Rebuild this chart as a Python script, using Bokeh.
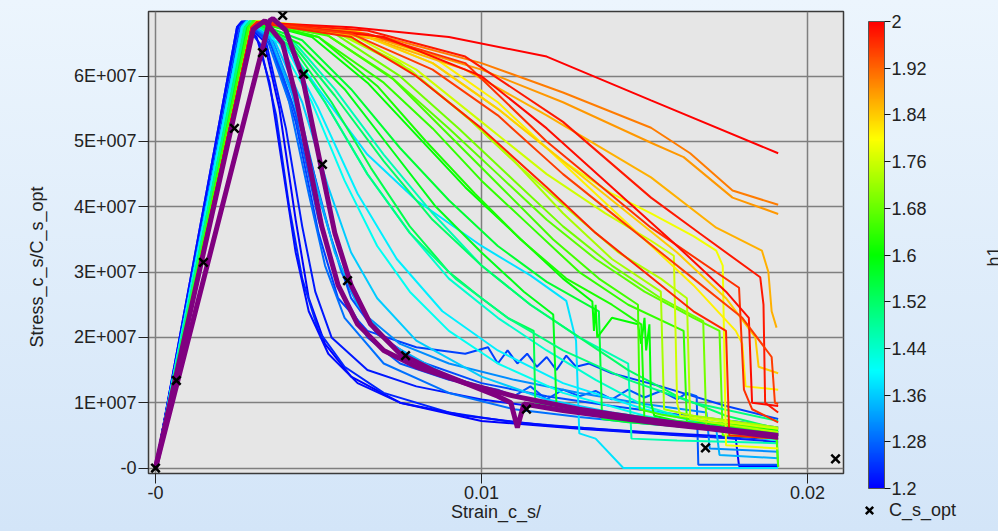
import colorsys
from math import pi
from bokeh.plotting import figure
from bokeh.models import (ColumnDataSource, LinearColorMapper, ColorBar, FixedTicker,
                          Label, Legend, LegendItem, Range1d, Title)
from bokeh.transform import transform
from bokeh.embed import file_html
from bokeh.resources import INLINE

# ---------------- data (strain in 1e-3, stress in 1e7) ----------------
H1 = [1.20, 1.22, 1.25, 1.27, 1.29, 1.23, 1.31, 1.21, 1.26,
      1.38, 1.36, 1.41, 1.44, 1.34, 1.46, 1.39,
      1.52, 1.56, 1.60, 1.64, 1.67, 1.58, 1.54, 1.62, 1.69, 1.50, 1.65,
      1.73, 1.79, 1.76, 1.81, 1.74,
      1.90, 1.88, 1.86, 1.84,
      2.00, 1.98, 1.96, 1.99, 1.95, 1.97]

STRAIN_MILLI = [
    [0, 2.55, 2.7, 3.3, 3.8, 4.3, 4.7, 5.2, 6.0, 7.5, 10, 13, 16, 17.8, 17.9, 19.1],
    [0, 2.55, 2.7, 3.4, 4.0, 4.5, 4.9, 5.4, 6.5, 8, 10, 12, 14, 16, 19.1],
    [0, 2.6, 2.72, 3.5, 4.3, 5, 5.6, 6.5, 8, 9.5, 10.2, 10.5, 10.8, 11.1, 11.4, 11.7, 12.0, 12.3, 12.6, 12.9, 13.3, 14, 15.5, 17.5, 19.1],
    [0, 2.6, 2.75, 3.5, 4.3, 5, 5.7, 6.5, 7.5, 9, 10.5, 11, 11.5, 12, 12.5, 13, 13.5, 14, 14.5, 15, 15.5, 16, 16.3, 16.6, 16.65, 19.1],
    [0, 2.6, 2.75, 3.4, 4.1, 4.7, 5.2, 5.8, 7, 9, 11, 13, 15, 17, 19.1],
    [0, 2.5, 2.65, 3.2, 3.7, 4.1, 4.5, 5.0, 5.8, 7, 9, 11, 14, 17, 19.1],
    [0, 2.6, 2.8, 3.6, 4.4, 5.1, 5.7, 6.3, 7.5, 9, 11, 13, 15, 16.9, 17.0, 19.1],
    [0, 2.5, 2.65, 3.1, 3.5, 3.9, 4.3, 4.7, 5.3, 6.2, 7.5, 9.5, 12, 15, 19.1],
    [0, 2.6, 2.75, 3.6, 4.6, 5.4, 6.0, 6.8, 8, 10, 12, 14, 16, 18, 19.1],
    [0, 2.65, 2.8, 4, 5, 6.5, 8, 10, 11.5, 12.6, 12.9, 13.0, 13.5, 14.35, 19.1],
    [0, 2.65, 2.8, 3.6, 4.5, 5.3, 6, 6.8, 8, 10, 12, 14, 16, 19.1],
    [0, 2.7, 2.85, 3.8, 4.8, 5.8, 6.8, 7.8, 9, 10.5, 12.5, 15, 17.5, 19.1],
    [0, 2.7, 2.85, 4, 5.2, 6.5, 7.8, 9, 10.5, 12, 13.5, 15, 17, 19.1],
    [0, 2.65, 2.8, 3.5, 4.2, 4.9, 5.5, 6.2, 7.2, 9, 11, 13, 15, 17.2, 17.3, 19.1],
    [0, 2.7, 2.9, 4.2, 5.5, 7, 8.5, 10, 11.5, 13, 14.5, 14.6, 16, 19.1],
    [0, 2.65, 2.8, 3.9, 5.0, 6.2, 7.4, 8.8, 10.5, 12.5, 15, 17.5, 19.1],
    [0, 2.75, 2.9, 4.2, 5.5, 7, 8.5, 10, 11.5, 13, 14.5, 16, 17.5, 19.1],
    [0, 2.8, 2.95, 4.5, 6, 7.5, 9, 10.5, 12, 13.6, 13.7, 14.5, 16.5, 19.05, 19.1],
    [0, 2.85, 3.0, 4.8, 6.5, 8, 9.5, 11, 12.5, 13.4, 13.45, 13.5, 13.55, 14, 14.8, 14.9, 15.0, 15.05, 15.15, 15.2, 15.3, 16, 17.5, 19.1],
    [0, 2.85, 3.0, 5, 7, 8.5, 10, 11.5, 13, 14.5, 16.2, 16.3, 17, 19.1],
    [0, 2.9, 3.05, 5.2, 7.2, 9, 10.5, 12, 13.5, 15, 16.5, 17.3, 17.4, 19.05, 19.1],
    [0, 2.8, 2.95, 4.4, 5.8, 7.2, 8.6, 10, 11.3, 12.2, 12.3, 13, 15, 17, 19.1],
    [0, 2.75, 2.9, 4.2, 5.4, 6.6, 7.8, 9, 10, 10.8, 11.6, 11.65, 12.5, 15, 17.5, 19.1],
    [0, 2.85, 3.0, 5, 6.8, 8.3, 9.8, 11.2, 12.6, 14, 14.9, 15.0, 16, 19.1],
    [0, 2.9, 3.05, 5.5, 7.5, 9.3, 11, 12.5, 14, 15.5, 16.8, 16.9, 18, 19.1],
    [0, 2.75, 2.9, 4.0, 5.2, 6.5, 7.8, 9.2, 10.8, 12.5, 14.5, 16.5, 19.1],
    [0, 2.85, 3.0, 5.3, 7.3, 9, 10.6, 12.2, 13.6, 14.8, 14.85, 15.5, 17, 19.1],
    [0, 2.95, 3.1, 5.5, 7.5, 9.5, 11, 12.5, 14, 15.5, 15.6, 16.5, 19.1],
    [0, 3.0, 3.15, 6, 8.5, 10.5, 12.5, 14, 15.2, 16.5, 17.2, 17.4, 17.5, 19.1],
    [0, 2.95, 3.1, 5.8, 8, 10, 12, 13.8, 15.2, 15.9, 16.0, 16.1, 19.1],
    [0, 3.0, 3.2, 6, 8.5, 10.5, 12, 13.5, 15, 16.5, 17.8, 18.0, 18.1, 19.1],
    [0, 2.95, 3.1, 5.5, 7.8, 9.6, 11.2, 12.8, 14.2, 15.5, 16.3, 16.4, 17, 19.1],
    [0, 3.0, 3.2, 7, 10, 12.5, 15.2, 16.4, 17.7, 19.1],
    [0, 3.0, 3.2, 7, 10, 12.5, 15.2, 16.2, 17.7, 19.1],
    [0, 3.0, 3.2, 6.5, 9.5, 12, 15.2, 17.2, 18.6, 18.8, 18.9, 19.05],
    [0, 3.0, 3.2, 6, 8.5, 10.5, 12.5, 14.5, 16, 17.5, 18.4, 18.5, 19.1],
    [0, 2.95, 3.1, 6, 9, 12, 15.2, 19.1],
    [0, 2.95, 3.1, 6.5, 9.5, 12.5, 15.2, 16.7, 18.55, 18.65, 18.7, 19.1],
    [0, 2.95, 3.1, 6.5, 9.5, 12, 15.2, 17.9, 18.05, 18.3, 19.1],
    [0, 2.95, 3.1, 7, 10, 12, 14, 16, 17.5, 18.2, 18.3, 19.1],
    [0, 2.95, 3.1, 6, 8.5, 10.5, 12.5, 14.5, 16.5, 18, 18.9, 19.0, 19.1],
    [0, 2.95, 3.1, 6, 8, 10, 12, 13.5, 15, 16.5, 17.5, 17.6, 19.1],
]

STRESS_E7 = [
    [0, 6.75, 6.84, 6.6, 5.5, 3.8, 2.6, 1.9, 1.4, 1.0, 0.72, 0.6, 0.5, 0.45, 0.03, 0.03],
    [0, 6.75, 6.84, 6.5, 5.2, 3.7, 2.7, 2.0, 1.5, 1.25, 1.05, 0.92, 0.8, 0.7, 0.55],
    [0, 6.75, 6.84, 6.55, 5.3, 3.6, 2.6, 2.1, 1.85, 1.75, 1.85, 1.6, 1.8, 1.6, 1.75, 1.55, 1.7, 1.5, 1.72, 1.55, 1.6, 1.45, 1.25, 0.95, 0.75],
    [0, 6.75, 6.84, 6.6, 5.4, 3.8, 2.7, 2.0, 1.6, 1.35, 1.2, 1.1, 1.25, 1.05, 1.2, 1.1, 1.18, 1.05, 1.2, 1.08, 1.18, 1.05, 1.15, 1.1, 0.05, 0.05],
    [0, 6.75, 6.84, 6.6, 5.6, 4.2, 3.1, 2.3, 1.6, 1.15, 0.9, 0.78, 0.68, 0.6, 0.52],
    [0, 6.75, 6.84, 6.5, 5.4, 4.0, 2.9, 2.1, 1.55, 1.15, 0.85, 0.7, 0.58, 0.48, 0.4],
    [0, 6.75, 6.84, 6.55, 5.5, 4.0, 3.0, 2.4, 1.9, 1.6, 1.35, 1.15, 0.98, 0.85, 0.3, 0.25],
    [0, 6.75, 6.84, 6.6, 5.9, 4.6, 3.3, 2.4, 1.75, 1.3, 1.0, 0.8, 0.65, 0.55, 0.44],
    [0, 6.75, 6.84, 6.45, 5.0, 3.5, 2.6, 2.05, 1.65, 1.3, 1.1, 0.95, 0.82, 0.7, 0.62],
    [0, 6.75, 6.84, 6.5, 5.8, 4.8, 4.1, 3.4, 2.95, 2.56, 1.95, 0.53, 0.45, 0.0, 0.0],
    [0, 6.75, 6.84, 6.6, 5.6, 4.3, 3.3, 2.6, 1.95, 1.4, 1.05, 0.85, 0.7, 0.55],
    [0, 6.75, 6.84, 6.5, 5.6, 4.4, 3.4, 2.7, 2.1, 1.6, 1.15, 0.8, 0.55, 0.42],
    [0, 6.75, 6.84, 6.5, 5.6, 4.5, 3.6, 2.9, 2.3, 1.8, 1.35, 0.95, 0.65, 0.5],
    [0, 6.75, 6.84, 6.6, 5.7, 4.4, 3.3, 2.5, 1.9, 1.4, 1.1, 0.9, 0.75, 0.6, 0.2, 0.15],
    [0, 6.75, 6.84, 6.55, 5.8, 4.8, 3.9, 3.1, 2.5, 2.0, 1.6, 0.45, 0.42, 0.38],
    [0, 6.75, 6.84, 6.55, 5.5, 4.2, 3.2, 2.4, 1.8, 1.3, 0.9, 0.6, 0.45],
    [0, 6.75, 6.84, 6.5, 5.7, 4.7, 3.8, 3.1, 2.5, 2.0, 1.5, 1.1, 0.8, 0.6],
    [0, 6.75, 6.84, 6.55, 5.8, 4.9, 4.1, 3.4, 2.85, 2.4, 0.75, 0.7, 0.62, 0.55, 0.02],
    [0, 6.75, 6.84, 6.6, 5.9, 5.1, 4.3, 3.6, 2.9, 2.55, 2.1, 2.5, 2.0, 2.3, 2.2, 1.9, 2.3, 1.8, 2.2, 1.0, 0.8, 0.72, 0.65, 0.58],
    [0, 6.75, 6.84, 6.6, 5.9, 5.2, 4.4, 3.7, 3.0, 2.5, 2.1, 0.7, 0.65, 0.55],
    [0, 6.75, 6.84, 6.65, 6.0, 5.2, 4.5, 3.8, 3.2, 2.7, 2.3, 2.1, 0.5, 0.45, 0.02],
    [0, 6.75, 6.84, 6.5, 5.8, 4.9, 4.0, 3.3, 2.7, 2.35, 0.95, 0.88, 0.72, 0.6, 0.5],
    [0, 6.75, 6.84, 6.45, 5.6, 4.6, 3.7, 3.0, 2.6, 2.3, 2.1, 1.0, 0.93, 0.78, 0.62, 0.52],
    [0, 6.75, 6.84, 6.6, 5.85, 5.0, 4.2, 3.5, 2.9, 2.5, 2.2, 0.7, 0.64, 0.5],
    [0, 6.75, 6.84, 6.65, 6.0, 5.2, 4.4, 3.7, 3.1, 2.6, 2.25, 0.6, 0.5, 0.45],
    [0, 6.75, 6.84, 6.5, 5.6, 4.5, 3.6, 2.9, 2.3, 1.8, 1.35, 1.0, 0.72],
    [0, 6.75, 6.84, 6.62, 5.95, 5.1, 4.3, 3.5, 2.9, 2.5, 0.9, 0.82, 0.7, 0.6],
    [0, 6.75, 6.84, 6.7, 6.2, 5.4, 4.7, 3.9, 3.2, 2.7, 0.9, 0.8, 0.62],
    [0, 6.75, 6.84, 6.7, 6.2, 5.5, 4.7, 4.2, 3.9, 3.55, 3.33, 3.1, 0.35, 0.3],
    [0, 6.75, 6.84, 6.7, 6.1, 5.3, 4.5, 3.9, 3.48, 3.25, 1.0, 0.8, 0.6],
    [0, 6.75, 6.84, 6.72, 6.3, 5.6, 4.9, 4.2, 3.5, 2.8, 2.1, 1.9, 1.25, 1.2],
    [0, 6.75, 6.84, 6.68, 6.1, 5.35, 4.6, 3.9, 3.3, 2.9, 2.6, 0.75, 0.7, 0.55],
    [0, 6.75, 6.84, 6.6, 6.2, 5.75, 5.21, 4.82, 4.25, 4.03],
    [0, 6.75, 6.84, 6.55, 6.1, 5.6, 4.98, 4.76, 4.14, 3.89],
    [0, 6.75, 6.84, 6.6, 6.1, 5.4, 4.45, 3.68, 3.33, 3.0, 2.4, 2.15],
    [0, 6.75, 6.84, 6.7, 6.2, 5.5, 4.7, 3.9, 3.3, 2.6, 2.0, 1.55, 1.45],
    [0, 6.75, 6.82, 6.75, 6.6, 6.3, 5.63, 4.82],
    [0, 6.75, 6.82, 6.7, 6.3, 5.3, 4.14, 3.59, 2.92, 2.5, 1.0, 0.85],
    [0, 6.75, 6.82, 6.65, 6.2, 5.0, 3.68, 2.76, 1.2, 0.9, 0.7],
    [0, 6.75, 6.82, 6.6, 6.0, 5.2, 4.3, 3.4, 2.7, 2.3, 1.0, 0.95],
    [0, 6.75, 6.82, 6.65, 6.1, 5.4, 4.5, 3.7, 2.9, 2.3, 1.7, 1.0, 0.98],
    [0, 6.75, 6.82, 6.6, 6.0, 5.2, 4.3, 3.6, 3.0, 2.4, 2.1, 0.5, 0.45],
]

PURPLE_STRAIN_MILLI = [
    [0, 3.5, 3.6, 4.0, 4.5, 5.0, 5.5, 6.0, 6.6, 7.5, 8.5, 9.5, 10.5, 10.9, 11.1, 11.3, 12.5, 14, 15.5, 17, 19.1],
    [0, 3.0, 3.35, 3.9, 4.3, 4.7, 5.1, 5.6, 6.2, 7, 8, 9.5, 11, 13, 15, 17, 19.1],
]
PURPLE_STRESS_E7 = [
    [0, 6.85, 6.88, 6.7, 6.0, 4.8, 3.6, 2.8, 2.2, 1.75, 1.5, 1.3, 1.1, 1.0, 0.62, 0.98, 0.88, 0.78, 0.68, 0.6, 0.47],
    [0, 6.72, 6.85, 6.5, 5.7, 4.7, 3.7, 2.8, 2.2, 1.8, 1.55, 1.3, 1.1, 0.9, 0.75, 0.62, 0.5],
]

OPT_STRAIN = [0, 0.00064, 0.00147, 0.00242, 0.00328, 0.0039, 0.00454, 0.00512,
              0.00589, 0.00767, 0.01138, 0.01687, 0.02086]
OPT_STRESS = [0, 1.34e7, 3.15e7, 5.2e7, 6.36e7, 6.93e7, 6.03e7, 4.65e7,
              2.87e7, 1.72e7, 0.9e7, 0.31e7, 0.14e7]

X_TICKS = [0, 0.01, 0.02]
X_TICK_LABELS = ["-0", "0.01", "0.02"]
Y_TICKS = [0, 1e7, 2e7, 3e7, 4e7, 5e7, 6e7]
Y_TICK_LABELS = ["-0", "1E+007", "2E+007", "3E+007", "4E+007", "5E+007", "6E+007"]
CB_TICKS = [1.2, 1.28, 1.36, 1.44, 1.52, 1.6, 1.68, 1.76, 1.84, 1.92, 2.0]
CB_TICK_LABELS = ["1.2", "1.28", "1.36", "1.44", "1.52", "1.6", "1.68", "1.76", "1.84", "1.92", "2"]

# ---------------- styling ----------------
FONT = "Liberation Sans"
TXT = "#222222"
FS = "18px"
GRAD = "linear-gradient(180deg, #ecf5fd 0%, #d3e5f8 100%)"

palette = []
for i in range(256):
    t = i / 255
    r, g, b = colorsys.hsv_to_rgb((2 / 3) * (1 - t), 1.0, 1.0)
    palette.append("#%02x%02x%02x" % (round(r * 255), round(g * 255), round(b * 255)))
mapper = LinearColorMapper(palette=palette, low=1.2, high=2.0)

# ---------------- main plot ----------------
p = figure(width=855, height=531, output_backend="svg", toolbar_location=None,
           x_range=Range1d(-0.000215, 0.021104), y_range=Range1d(-0.084e7, 6.99e7),
           min_border_left=148, min_border_right=12, min_border_top=11,
           min_border_bottom=58, background_fill_color="#e6e6e6",
           border_fill_alpha=0, outline_line_color="#3a3a3a", outline_line_width=1.5)
p.styles = {"background": GRAD}

src = ColumnDataSource(dict(
    xs=[[v * 1e-3 for v in s] for s in STRAIN_MILLI],
    ys=[[v * 1e7 for v in s] for s in STRESS_E7],
    h1=H1))
p.multi_line("xs", "ys", source=src, line_color=transform("h1", mapper), line_width=2)

psrc = ColumnDataSource(dict(
    xs=[[v * 1e-3 for v in s] for s in PURPLE_STRAIN_MILLI],
    ys=[[v * 1e7 for v in s] for s in PURPLE_STRESS_E7]))
p.multi_line("xs", "ys", source=psrc, line_color="#800080", line_width=5)

p.scatter(OPT_STRAIN, OPT_STRESS, marker="x", size=12, line_color="black", line_width=2.5)

p.xaxis.ticker = FixedTicker(ticks=X_TICKS)
p.xaxis.major_label_overrides = dict(zip(X_TICKS, X_TICK_LABELS))
p.yaxis.ticker = FixedTicker(ticks=Y_TICKS)
p.yaxis.major_label_overrides = dict(zip(Y_TICKS, Y_TICK_LABELS))
for ax in (p.xaxis[0], p.yaxis[0]):
    ax.minor_tick_line_color = None
    ax.major_tick_in = 0
    ax.major_tick_out = 10
    ax.major_tick_line_color = "#222222"
    ax.axis_line_color = "#3a3a3a"
    ax.major_label_text_font = FONT
    ax.major_label_text_font_size = FS
    ax.major_label_text_color = TXT
    ax.major_label_standoff = 2
p.xaxis.axis_label = "Strain_c_s/"
p.xaxis.axis_label_text_font = FONT
p.xaxis.axis_label_text_font_size = FS
p.xaxis.axis_label_text_font_style = "normal"
p.xaxis.axis_label_text_color = TXT
p.xaxis.axis_label_standoff = 0

p.grid.grid_line_color = "#7f7f7f"
p.grid.grid_line_width = 1.5

p.add_layout(Title(text="Stress_c_s/C_s_opt", align="left", offset=126, standoff=47,
                   text_font=FONT, text_font_size=FS, text_font_style="normal",
                   text_color=TXT), "left")

# ---------------- side strip (own root, placed at x=855): colour bar, legend, h1 ----
q = figure(width=143, height=531, output_backend="svg", toolbar_location=None,
           title=None, x_range=Range1d(0, 143), y_range=Range1d(0, 531),
           x_axis_location=None, y_axis_location=None,
           min_border=0, min_border_left=0, min_border_right=0, min_border_top=0,
           min_border_bottom=0, background_fill_alpha=0, border_fill_alpha=0,
           outline_line_color=None)
q.styles = {"background": GRAD, "position": "absolute", "left": "855px", "top": "0px"}
q.grid.visible = False

cb = ColorBar(color_mapper=mapper, ticker=FixedTicker(ticks=CB_TICKS),
              major_label_overrides=dict(zip(CB_TICKS, CB_TICK_LABELS)),
              width=16, height=467, location=(13, 43), padding=0, margin=0,
              major_tick_in=0, major_tick_out=6, major_tick_line_color="#111111",
              minor_tick_line_color=None, label_standoff=1,
              major_label_text_font=FONT, major_label_text_font_size=FS,
              major_label_text_color=TXT, bar_line_color="#555555",
              background_fill_alpha=0, border_line_alpha=0)
q.add_layout(cb)

r_leg = q.scatter([-100], [-100], marker="x", size=12, line_color="black", line_width=2.5)
legend = Legend(items=[LegendItem(label="C_s_opt", renderers=[r_leg])],
                location=(1, 8), padding=0, margin=0, glyph_width=26,
                glyph_height=26, label_standoff=7, label_text_font=FONT,
                label_text_font_size=FS, label_text_color=TXT,
                background_fill_alpha=0, border_line_alpha=0)
q.add_layout(legend)

q.add_layout(Label(x=138, y=275, text="h1", angle=pi / 2, text_align="center",
                   text_baseline="middle", text_font=FONT, text_font_size=FS,
                   text_color=TXT))

open("out.html", "w").write(file_html([p, q], INLINE))
